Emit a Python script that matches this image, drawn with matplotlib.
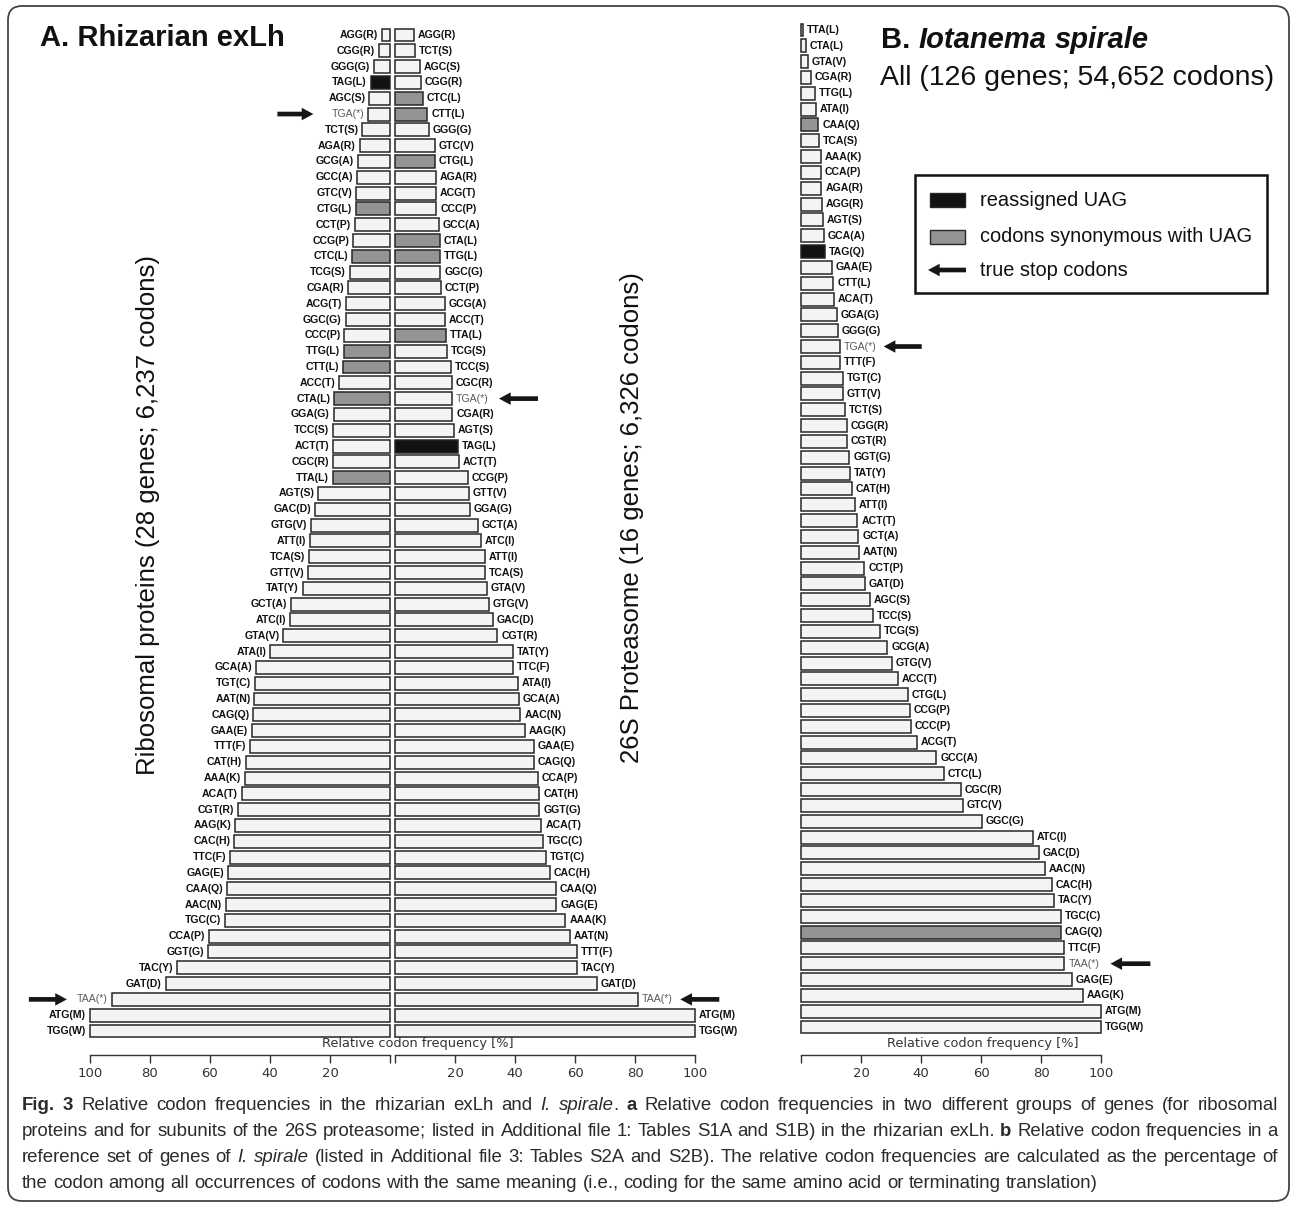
import matplotlib
matplotlib.use("Agg")
import numpy as np
import matplotlib.pyplot as plt
import matplotlib.transforms as mtransforms
from matplotlib.patches import FancyBboxPatch, Rectangle, FancyArrowPatch, ArrowStyle
from matplotlib import font_manager

# ---------------------------------------------------------------------------
# data (relative codon frequency, %)
# ---------------------------------------------------------------------------
ribo_codons = ["AGG(R)", "CGG(R)", "GGG(G)", "TAG(L)", "AGC(S)", "TGA(*)", "TCT(S)", "AGA(R)",
               "GCG(A)", "GCC(A)", "GTC(V)", "CTG(L)", "CCT(P)", "CCG(P)", "CTC(L)", "TCG(S)",
               "CGA(R)", "ACG(T)", "GGC(G)", "CCC(P)", "TTG(L)", "CTT(L)", "ACC(T)", "CTA(L)",
               "GGA(G)", "TCC(S)", "ACT(T)", "CGC(R)", "TTA(L)", "AGT(S)", "GAC(D)", "GTG(V)",
               "ATT(I)", "TCA(S)", "GTT(V)", "TAT(Y)", "GCT(A)", "ATC(I)", "GTA(V)", "ATA(I)",
               "GCA(A)", "TGT(C)", "AAT(N)", "CAG(Q)", "GAA(E)", "TTT(F)", "CAT(H)", "AAA(K)",
               "ACA(T)", "CGT(R)", "AAG(K)", "CAC(H)", "TTC(F)", "GAG(E)", "CAA(Q)", "AAC(N)",
               "TGC(C)", "CCA(P)", "GGT(G)", "TAC(Y)", "GAT(D)", "TAA(*)", "ATG(M)", "TGG(W)"]
ribo_freq = [2.6, 3.7, 5.3, 6.4, 6.9, 7.2, 9.2, 10.1, 10.8, 11.1, 11.2, 11.3, 11.7, 12.2, 12.6, 13.4,
             14.1, 14.6, 14.8, 15.2, 15.3, 15.7, 17.0, 18.6, 18.8, 18.9, 18.9, 19.0, 19.0, 23.9, 24.9, 26.3,
             26.7, 26.9, 27.2, 29.1, 33.0, 33.2, 35.6, 40.0, 44.7, 44.9, 45.2, 45.6, 46.0, 46.6, 48.0, 48.4,
             49.4, 50.7, 51.7, 51.9, 53.3, 53.9, 54.3, 54.6, 54.9, 60.5, 60.8, 70.9, 74.8, 92.7, 100.0, 100.0]

prot_codons = ["AGG(R)", "TCT(S)", "AGC(S)", "CGG(R)", "CTC(L)", "CTT(L)", "GGG(G)", "GTC(V)",
               "CTG(L)", "AGA(R)", "ACG(T)", "CCC(P)", "GCC(A)", "CTA(L)", "TTG(L)", "GGC(G)",
               "CCT(P)", "GCG(A)", "ACC(T)", "TTA(L)", "TCG(S)", "TCC(S)", "CGC(R)", "TGA(*)",
               "CGA(R)", "AGT(S)", "TAG(L)", "ACT(T)", "CCG(P)", "GTT(V)", "GGA(G)", "GCT(A)",
               "ATC(I)", "ATT(I)", "TCA(S)", "GTA(V)", "GTG(V)", "GAC(D)", "CGT(R)", "TAT(Y)",
               "TTC(F)", "ATA(I)", "GCA(A)", "AAC(N)", "AAG(K)", "GAA(E)", "CAG(Q)", "CCA(P)",
               "CAT(H)", "GGT(G)", "ACA(T)", "TGC(C)", "TGT(C)", "CAC(H)", "CAA(Q)", "GAG(E)",
               "AAA(K)", "AAT(N)", "TTT(F)", "TAC(Y)", "GAT(D)", "TAA(*)", "ATG(M)", "TGG(W)"]
prot_freq = [6.2, 6.6, 8.2, 8.6, 9.3, 10.8, 11.2, 13.2, 13.3, 13.6, 13.6, 13.8, 14.7, 14.9, 15.0, 15.1,
             15.4, 16.7, 16.7, 16.9, 17.2, 18.6, 18.9, 19.0, 19.1, 19.5, 20.9, 21.2, 24.2, 24.7, 24.9, 27.7,
             28.6, 30.0, 30.0, 30.5, 31.4, 32.7, 34.1, 39.3, 39.3, 40.9, 41.3, 41.8, 43.2, 46.2, 46.4, 47.5,
             48.1, 48.1, 48.8, 49.2, 50.3, 51.5, 53.7, 53.8, 56.8, 58.2, 60.6, 60.8, 67.3, 81.1, 100.0, 100.0]

iota_codons = ["TTA(L)", "CTA(L)", "GTA(V)", "CGA(R)", "TTG(L)", "ATA(I)", "CAA(Q)", "TCA(S)",
               "AAA(K)", "CCA(P)", "AGA(R)", "AGG(R)", "AGT(S)", "GCA(A)", "TAG(Q)", "GAA(E)",
               "CTT(L)", "ACA(T)", "GGA(G)", "GGG(G)", "TGA(*)", "TTT(F)", "TGT(C)", "GTT(V)",
               "TCT(S)", "CGG(R)", "CGT(R)", "GGT(G)", "TAT(Y)", "CAT(H)", "ATT(I)", "ACT(T)",
               "GCT(A)", "AAT(N)", "CCT(P)", "GAT(D)", "AGC(S)", "TCC(S)", "TCG(S)", "GCG(A)",
               "GTG(V)", "ACC(T)", "CTG(L)", "CCG(P)", "CCC(P)", "ACG(T)", "GCC(A)", "CTC(L)",
               "CGC(R)", "GTC(V)", "GGC(G)", "ATC(I)", "GAC(D)", "AAC(N)", "CAC(H)", "TAC(Y)",
               "TGC(C)", "CAG(Q)", "TTC(F)", "TAA(*)", "GAG(E)", "AAG(K)", "ATG(M)", "TGG(W)"]
iota_freq = [0.5, 1.6, 2.2, 3.3, 4.6, 5.0, 5.8, 6.1, 6.7, 6.7, 6.8, 7.1, 7.3, 7.7, 8.0, 10.4,
             10.8, 11.0, 11.9, 12.4, 12.9, 13.1, 13.9, 13.9, 14.8, 15.2, 15.4, 16.1, 16.2, 17.0, 18.0, 18.8,
             19.1, 19.3, 21.1, 21.2, 23.0, 24.0, 26.4, 28.8, 30.4, 32.4, 35.6, 36.3, 36.6, 38.6, 45.1, 47.6,
             53.3, 53.9, 60.4, 77.4, 79.4, 81.3, 83.6, 84.4, 86.7, 86.7, 87.6, 87.8, 90.2, 93.9, 100.0, 100.0]

leu_synonymous = ["CTG(L)", "CTC(L)", "TTG(L)", "CTT(L)", "CTA(L)", "TTA(L)"]
gln_synonymous = ["CAA(Q)", "CAG(Q)"]

tick_values = [0, 20, 40, 60, 80, 100]
tick_labels = ["", "20", "40", "60", "80", "100"]

caption_lines = [
    [("Fig. 3", "bold", "normal"),
     (" Relative codon frequencies in the rhizarian exLh and ", "normal", "normal"),
     ("I. spirale", "normal", "italic"), (". ", "normal", "normal"), ("a", "bold", "normal"),
     (" Relative codon frequencies in two different groups of genes (for ribosomal", "normal", "normal")],
    [("proteins and for subunits of the 26S proteasome; listed in Additional file 1: Tables S1A and S1B) "
      "in the rhizarian exLh. ", "normal", "normal"), ("b", "bold", "normal"),
     (" Relative codon frequencies in a", "normal", "normal")],
    [("reference set of genes of ", "normal", "normal"), ("I. spirale", "normal", "italic"),
     (" (listed in Additional file 3: Tables S2A and S2B). The relative codon frequencies are "
      "calculated as the percentage of", "normal", "normal")],
    [("the codon among all occurrences of codons with the same meaning (i.e., coding for the same "
      "amino acid or terminating translation)", "normal", "normal")],
]

# ---------------------------------------------------------------------------
# style
# ---------------------------------------------------------------------------
LIGHT, GRAY, BLACK, EDGE = "#f4f4f4", "#949494", "#121212", "#262626"
STOP_TXT = "#5a5a5a"
SANS = "Liberation Sans"
try:
    font_manager.findfont("Liberation Sans Narrow", fallback_to_default=False)
    CAP_FONT = "Liberation Sans Narrow"
except ValueError:
    CAP_FONT = SANS
ARROW = ArrowStyle.Simple(head_length=0.7, head_width=0.75, tail_width=0.28)
AXIS_Y = 1055

W, H = 1295, 1209
fig = plt.figure(figsize=(W / 100, H / 100), dpi=100)
renderer = fig.canvas.get_renderer()
PIX = mtransforms.IdentityTransform()


def fx(x):
    return x / W


def fy(y):
    return 1 - y / H


def px_rect(x0, x1, ytop, ybot):
    return [x0 / W, 1 - ybot / H, (x1 - x0) / W, (ybot - ytop) / H]


def arrow(x_tail, x_tip, y):
    a = FancyArrowPatch((x_tail, y), (x_tip, y), transform=PIX, arrowstyle=ARROW,
                        mutation_scale=12, color="#161616", lw=0, shrinkA=0, shrinkB=0)
    fig.add_artist(a)


def draw_panel(codons, freq, reassigned, synonymous, stop_arrows, side, x0, x1, row_top, row_bot):
    n = len(codons)
    half = (row_bot - row_top) / (n - 1) / 2
    ax = fig.add_axes(px_rect(x0, x1, row_top - half, row_bot + half))
    colors = [BLACK if c == reassigned else GRAY if c in synonymous else LIGHT for c in codons]
    y = np.arange(n)
    ax.barh(y, freq, height=0.82, color=colors, edgecolor=EDGE, linewidth=1.1, clip_on=False)
    ax.set_ylim(n - 0.5, -0.5)
    ax.set_xlim((100, 0) if side == "left" else (0, 100))
    sign = -1 if side == "left" else 1
    for i, (c, v) in enumerate(zip(codons, freq)):
        stop = c.endswith("(*)")
        ax.annotate(c, xy=(v, i), xytext=(sign * 2.8, 0), textcoords="offset points",
                    ha="right" if side == "left" else "left", va="center",
                    fontsize=7.6, fontweight="normal" if stop else "bold",
                    color=STOP_TXT if stop else "#111111", family=SANS,
                    annotation_clip=False)

    for s in ("left", "right", "top"):
        ax.spines[s].set_visible(False)
    ax.spines["bottom"].set_position(("outward", (AXIS_Y - (row_bot + half)) * 0.72))
    ax.spines["bottom"].set_bounds(0, 100)
    ax.spines["bottom"].set_linewidth(1.0)
    ax.spines["bottom"].set_color("#333333")
    ax.set_yticks([])
    ax.set_xticks(tick_values)
    ax.set_xticklabels(tick_labels)
    ax.tick_params(axis="x", length=5.8, width=1.0, pad=3, labelsize=9.5,
                   color="#333333", labelcolor="#333333")
    ax.patch.set_visible(False)

    # true stop codon arrows, offsets in px from the bar end
    for c, (tip, tail) in stop_arrows.items():
        i = codons.index(c)
        bx, by = ax.transData.transform((freq[i], i))
        arrow(bx + tail, bx + tip, by)
    return ax


draw_panel(ribo_codons, ribo_freq, "TAG(L)", leu_synonymous,
           {"TGA(*)": (-55, -91), "TAA(*)": (-45, -83)}, "left", 90, 390, 35, 1031)
draw_panel(prot_codons, prot_freq, "TAG(L)", leu_synonymous,
           {"TGA(*)": (47, 86), "TAA(*)": (42, 81)}, "right", 395, 695, 35, 1031)
draw_panel(iota_codons, iota_freq, "TAG(Q)", gln_synonymous,
           {"TGA(*)": (44, 82), "TAA(*)": (46, 86)}, "right", 801, 1101, 30, 1027)

fig.text(fx(418), fy(1044), "Relative codon frequency [%]", ha="center", va="center",
         fontsize=9.3, color="#333333")
fig.text(fx(983), fy(1044), "Relative codon frequency [%]", ha="center", va="center",
         fontsize=9.3, color="#333333")

fig.text(fx(148), fy(515), "Ribosomal proteins (28 genes; 6,237 codons)", rotation=90,
         ha="center", va="center", fontsize=18.5, family=SANS, color="#111111")
fig.text(fx(632), fy(518), "26S Proteasome (16 genes; 6,326 codons)", rotation=90,
         ha="center", va="center", fontsize=18.5, family=SANS, color="#111111")


# ---------------------------------------------------------------------------
# text helper: a line of differently styled words, optionally justified
# ---------------------------------------------------------------------------
def styled_line(x, y, runs, size, family, color, target=None, draw=True):
    tokens = []
    pending = 0
    for txt, weight, style in runs:
        for j, word in enumerate(txt.split(" ")):
            if j > 0:
                pending += 1
            if word:
                tokens.append((word, weight, style, pending))
                pending = 0
    tokens[0] = tokens[0][:3] + (0,)

    def make(s, weight, style, xx=0.0):
        return fig.text(fx(xx), fy(y), s, fontsize=size, family=family, fontweight=weight,
                        fontstyle=style, color=color, ha="left", va="center")

    probe = [make(s, "normal", "normal") for s in ("x x", "xx")]
    space = probe[0].get_window_extent(renderer).width - probe[1].get_window_extent(renderer).width
    for p in probe:
        p.remove()

    widths = []
    for word, weight, style, _ in tokens:
        t = make(word, weight, style)
        widths.append(t.get_window_extent(renderer).width)
        t.remove()
    n_space = sum(tok[3] for tok in tokens)
    natural = sum(widths) + n_space * space
    if not draw:
        return natural
    if target is not None and n_space:
        space = (target - sum(widths)) / n_space
    for (word, weight, style, gap), w in zip(tokens, widths):
        x += gap * space
        make(word, weight, style, x)
        x += w
    return natural


fig.text(fx(40), fy(38), "A. Rhizarian exLh", fontsize=21, fontweight="bold", family=SANS,
         ha="left", va="center", color="#111111")
styled_line(881, 40, [("B. ", "bold", "normal"), ("Iotanema spirale", "bold", "italic")],
            21, SANS, "#111111")
fig.text(fx(880), fy(78), "All (126 genes; 54,652 codons)", fontsize=20.5, family=SANS,
         ha="left", va="center", color="#111111")

# legend
fig.add_artist(Rectangle((915, H - 293), 352, 118, transform=PIX, facecolor="white",
                         edgecolor="#111111", lw=1.8))
fig.add_artist(Rectangle((930, H - 207), 35, 14, transform=PIX, facecolor=BLACK,
                         edgecolor=EDGE, lw=1.0))
fig.add_artist(Rectangle((930, H - 244), 35, 14, transform=PIX, facecolor=GRAY,
                         edgecolor=EDGE, lw=1.0))
arrow(966, 928, H - 270)
for ly, lab in [(200, "reassigned UAG"), (237, "codons synonymous with UAG"), (270, "true stop codons")]:
    fig.text(fx(980), fy(ly), lab, fontsize=14.4, family=SANS, ha="left", va="center",
             color="#111111")

# caption: size so the widest line fits, first three lines justified
CAP_W = 1256
widest = max(styled_line(22, 1106, line, 12, CAP_FONT, "#2b2b2b", draw=False)
             for line in caption_lines)
cap_size = 12 * (CAP_W - 6) / widest
for k, line in enumerate(caption_lines):
    styled_line(22, 1106 + k * 25.7, line, cap_size, CAP_FONT, "#2b2b2b",
                target=CAP_W if k < len(caption_lines) - 1 else None)

# rounded frame
fig.add_artist(FancyBboxPatch((8, H - 1201), 1281, 1195, boxstyle="round,pad=0,rounding_size=14",
                              transform=PIX, facecolor="none", edgecolor="#444444", lw=1.3))

fig.savefig("out.png", dpi=100)
